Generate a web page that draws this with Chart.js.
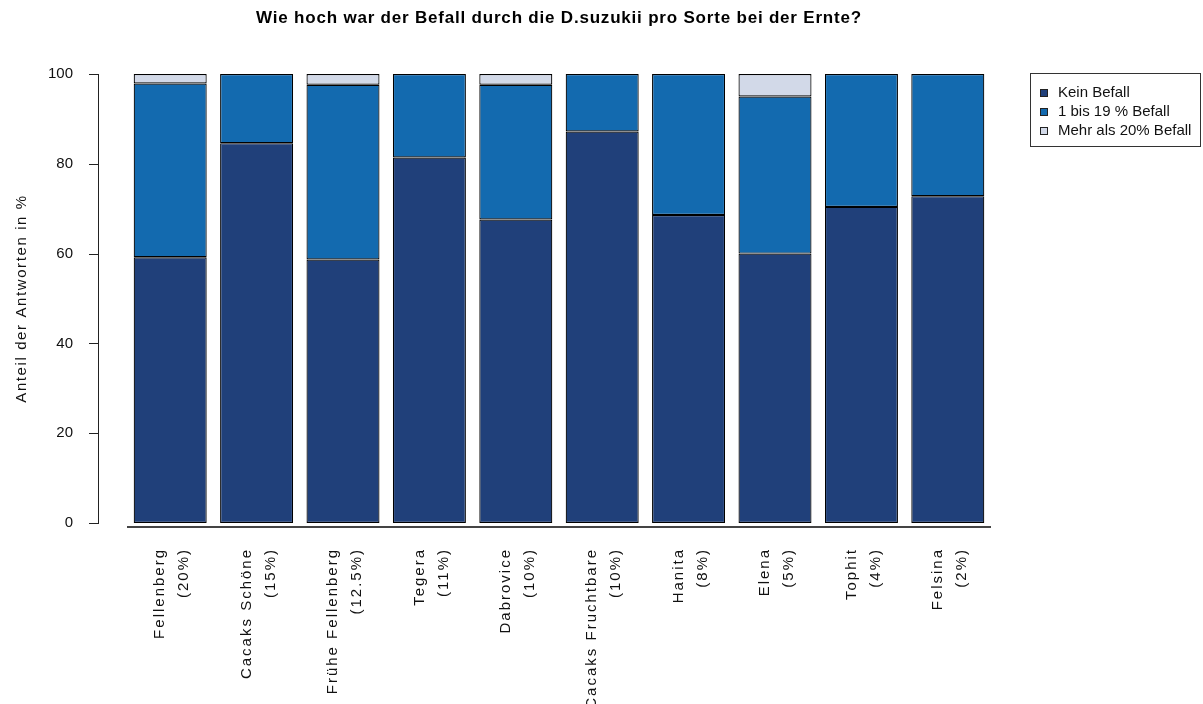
<!DOCTYPE html>
<html lang="de">
<head>
<meta charset="utf-8">
<title>Befall durch D.suzukii</title>
<script src="https://cdn.jsdelivr.net/npm/chart.js@4.4.1/dist/chart.umd.min.js"></script>
<style>
  html, body { margin: 0; padding: 0; background: #fff; }
  canvas { display: block; }
</style>
</head>
<body>
<canvas id="befallChart" width="1203" height="704"></canvas>
<script>
// Sorten und Anteil der Sorte an den Antworten
const sorten = ['Fellenberg', 'Cacaks Schöne', 'Frühe Fellenberg', 'Tegera', 'Dabrovice',
                'Cacaks Fruchtbare', 'Hanita', 'Elena', 'Tophit', 'Felsina'];
const anteilSorte = ['20%', '15%', '12.5%', '11%', '10%', '10%', '8%', '5%', '4%', '2%'];

// Anteil der Antworten in %
const keinBefall     = [59.2, 84.6, 58.7, 81.4, 67.6, 87.2, 68.6, 60.0, 70.4, 72.8];
const leichterBefall = [38.7, 15.4, 38.9, 18.6, 30.0, 12.8, 31.4, 35.0, 29.6, 27.2];
const starkerBefall  = [2.1, 0, 2.4, 0, 2.4, 0, 0, 5.0, 0, 0];

const legendLabels = ['Kein Befall', '1 bis 19 % Befall', 'Mehr als 20% Befall'];
const yTicks = [0, 20, 40, 60, 80, 100];

const colors = ['#20407a', '#136aaf', '#d2d9e8'];
const fontFamily = '"Liberation Sans", Arial, sans-serif';

Chart.defaults.font.family = fontFamily;
Chart.defaults.color = '#111';

// wraps a draw method so its text gets some letter spacing (R on Windows look)
function withSpacing(obj, name, spacing) {
    const orig = obj[name];
    obj[name] = function (...args) {
        const ctx = this.ctx;
        ctx.save();
        ctx.letterSpacing = spacing;
        orig.apply(this, args);
        ctx.restore();
    };
}

const spacingPlugin = {
    id: 'spacing',
    beforeDraw(chart) {
        if (chart._spaced) return;
        withSpacing(chart.scales.x, 'drawLabels', '2px');
        withSpacing(chart.scales.y, 'drawTitle', '1.6px');
        if (chart.titleBlock) withSpacing(chart.titleBlock, 'draw', '0.8px');
        chart._spaced = true;
    }
};

// y axis line with ticks, base line under the bars and the boxed legend
const rStylePlugin = {
    id: 'rStyle',
    afterDraw(chart) {
        const { ctx, chartArea } = chart;
        const y = chart.scales.y;
        const axisX = Math.round(chartArea.left - 29) + 0.5;
        const top = Math.round(y.getPixelForValue(yTicks[yTicks.length - 1]));
        const bottom = Math.round(y.getPixelForValue(yTicks[0]));

        ctx.save();
        ctx.strokeStyle = '#222';
        ctx.lineWidth = 1;
        ctx.beginPath();
        ctx.moveTo(axisX, top);
        ctx.lineTo(axisX, bottom + 1);
        ctx.stroke();

        ctx.beginPath();
        yTicks.forEach(v => {
            const py = Math.round(y.getPixelForValue(v)) + 0.5;
            ctx.moveTo(axisX - 9.5, py);
            ctx.lineTo(axisX + 0.5, py);
        });
        ctx.stroke();

        const base = bottom + 4;
        ctx.strokeStyle = '#444';
        ctx.lineWidth = 2;
        ctx.beginPath();
        ctx.moveTo(chartArea.left, base);
        ctx.lineTo(chartArea.right, base);
        ctx.stroke();

        // legend
        const lx = 1030.5, ly = 73.5;
        ctx.strokeStyle = '#333';
        ctx.lineWidth = 1;
        ctx.strokeRect(lx, ly, 170, 73);
        ctx.font = '15px ' + fontFamily;
        ctx.textBaseline = 'middle';
        ctx.textAlign = 'left';
        chart.data.datasets.forEach((ds, i) => {
            const cy = 93 + i * 19;
            ctx.fillStyle = ds.backgroundColor;
            ctx.fillRect(1041, cy - 3, 6, 6);
            ctx.strokeStyle = '#222';
            ctx.strokeRect(1040.5, cy - 3.5, 7, 7);
            ctx.fillStyle = '#111';
            ctx.fillText(ds.label, 1058, cy);
        });
        ctx.restore();
    }
};

const barData = [keinBefall, leichterBefall, starkerBefall];

const befallChart = new Chart(document.getElementById('befallChart'), {
    type: 'bar',
    data: {
        labels: sorten.map((s, i) => [s, '(' + anteilSorte[i] + ')']),
        datasets: barData.map((values, i) => ({
            label: legendLabels[i],
            data: values,
            backgroundColor: colors[i],
            borderColor: '#000',
            borderWidth: 1.2,
            borderSkipped: false,
            barPercentage: 0.845,
            categoryPercentage: 1.0
        }))
    },
    options: {
        responsive: false,
        animation: false,
        layout: { padding: { top: 0, left: 0, right: 212, bottom: 0 } },
        plugins: {
            legend: { display: false },
            tooltip: { enabled: false },
            title: {
                display: true,
                fullSize: false,
                text: 'Wie hoch war der Befall durch die D.suzukii pro Sorte bei der Ernte?',
                color: '#000',
                font: { size: 17, weight: 'bold' },
                padding: { top: 8, bottom: 45.6 }
            }
        },
        scales: {
            x: {
                stacked: true,
                grid: { display: false, drawTicks: false },
                border: { display: false },
                ticks: {
                    autoSkip: false,
                    minRotation: 90,
                    maxRotation: 90,
                    padding: 25,
                    labelOffset: -10,
                    font: { size: 15, lineHeight: 1.6 },
                    color: '#111'
                },
                afterFit: s => { s.height = 181; }
            },
            y: {
                stacked: true,
                min: 0,
                max: 100,
                grid: { display: false, drawTicks: false },
                border: { display: false },
                afterBuildTicks: s => { s.ticks = yTicks.map(v => ({ value: v })); },
                ticks: {
                    padding: 54,
                    font: { size: 15 },
                    color: '#111'
                },
                title: {
                    display: true,
                    text: 'Anteil der Antworten in %',
                    font: { size: 15 },
                    color: '#111',
                    padding: { top: 13, bottom: 0 }
                },
                afterFit: s => { s.width = 127; }
            }
        }
    },
    plugins: [spacingPlugin, rStylePlugin]
});
</script>
</body>
</html>
